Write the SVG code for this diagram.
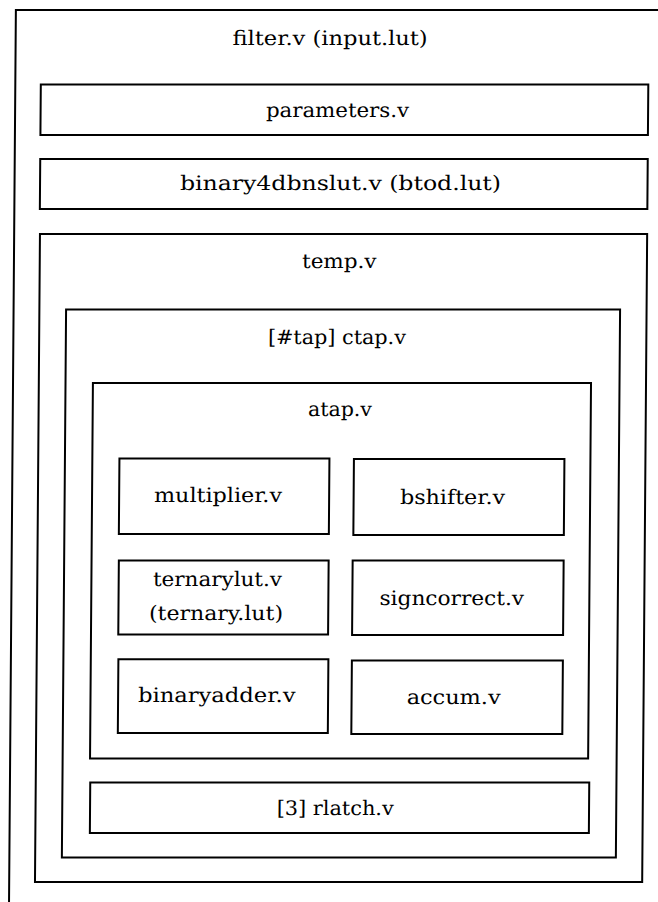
<svg xmlns="http://www.w3.org/2000/svg" width="658" height="902" viewBox="0 0 658 902">
<style>
.box{fill:none;stroke:#000;stroke-width:2}
.lbl{font-family:"DejaVu Serif","Liberation Serif",serif;font-size:20px;fill:#000}
</style>
<rect width="658" height="902" fill="#fff"/>
<g transform="translate(0,450) skewX(-0.44) translate(0,-450)">
<g id="filter">
<path class="box" d="M 700 10 H 12.5 V 930"/>
<text class="lbl" x="229.5" y="45.5" textLength="195" lengthAdjust="spacingAndGlyphs">filter.v (input.lut)</text>
</g>
<g id="parameters">
<rect class="box" x="38" y="84.5" width="607.5" height="50.5"/>
<text class="lbl" x="263.4" y="117" textLength="143" lengthAdjust="spacingAndGlyphs">parameters.v</text>
</g>
<g id="binary4dbnslut">
<rect class="box" x="38" y="159" width="607.5" height="50"/>
<text class="lbl" x="178" y="190" textLength="321" lengthAdjust="spacingAndGlyphs">binary4dbnslut.v (btod.lut)</text>
</g>
<g id="temp">
<rect class="box" x="38.3" y="234" width="607.2" height="648"/>
<text class="lbl" x="300.6" y="268" textLength="74.5" lengthAdjust="spacingAndGlyphs">temp.v</text>
</g>
<g id="ctap">
<rect class="box" x="65" y="309.5" width="554" height="548"/>
<text class="lbl" x="267.1" y="344" textLength="138" lengthAdjust="spacingAndGlyphs">[#tap] ctap.v</text>
</g>
<g id="atap">
<rect class="box" x="92.4" y="383" width="498.1" height="375.5"/>
<text class="lbl" x="307.7" y="416" textLength="64" lengthAdjust="spacingAndGlyphs">atap.v</text>
</g>
<g id="multiplier">
<rect class="box" x="119.5" y="458.5" width="210" height="75.5"/>
<text class="lbl" x="154.4" y="502" textLength="128" lengthAdjust="spacingAndGlyphs">multiplier.v</text>
</g>
<g id="bshifter">
<rect class="box" x="354" y="459" width="210.5" height="76"/>
<text class="lbl" x="400.4" y="504" textLength="105" lengthAdjust="spacingAndGlyphs">bshifter.v</text>
</g>
<g id="ternarylut">
<rect class="box" x="119.7" y="560.5" width="209.8" height="74"/>
<text class="lbl" x="154" y="586.5" textLength="129" lengthAdjust="spacingAndGlyphs">ternarylut.v</text>
<text class="lbl" x="150.3" y="620" textLength="134" lengthAdjust="spacingAndGlyphs">(ternary.lut)</text>
</g>
<g id="signcorrect">
<rect class="box" x="353.5" y="560.5" width="211" height="74.5"/>
<text class="lbl" x="380.7" y="605" textLength="144.5" lengthAdjust="spacingAndGlyphs">signcorrect.v</text>
</g>
<g id="binaryadder">
<rect class="box" x="120" y="659.3" width="210" height="73.7"/>
<text class="lbl" x="139.9" y="702" textLength="157.6" lengthAdjust="spacingAndGlyphs">binaryadder.v</text>
</g>
<g id="accum">
<rect class="box" x="353.5" y="660.5" width="211" height="73.5"/>
<text class="lbl" x="408.6" y="704" textLength="94" lengthAdjust="spacingAndGlyphs">accum.v</text>
</g>
<g id="rlatch">
<rect class="box" x="92.8" y="782.5" width="499" height="50.5"/>
<text class="lbl" x="279.5" y="815" textLength="117" lengthAdjust="spacingAndGlyphs">[3] rlatch.v</text>
</g>
<g id="connectors"/>
</g>
</svg>
